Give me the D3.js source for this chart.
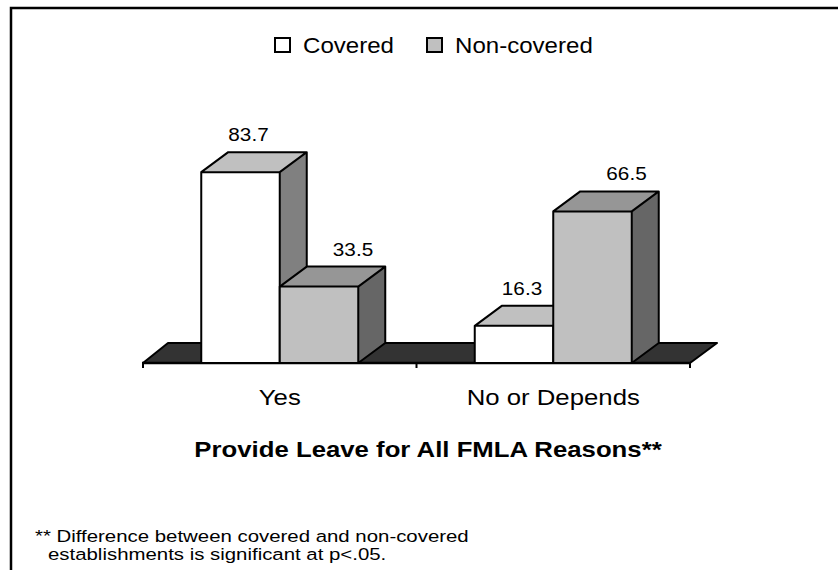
<!DOCTYPE html>
<html>
<head>
<meta charset="utf-8">
<script src="https://cdn.jsdelivr.net/npm/d3@7"></script>
<style>
  body { margin: 0; background: #fff; }
  text { font-family: "Liberation Sans", Arial, sans-serif; fill: #000; }
</style>
</head>
<body>
<div id="chart"></div>
<script>
var categories = ["Yes", "No or Depends"];
var series = ["Covered", "Non-covered"];
var covered = [83.7, 16.3];
var nonCovered = [33.5, 66.5];
var title = "Provide Leave for All FMLA Reasons**";
var footnote = ["** Difference between covered and non-covered",
                "establishments is significant at p<.05."];

var width = 838, height = 570;
var sx = 1.12; // the picture's text is a little wider than tall
var depthX = 27, depthY = -20;

var fills = {
  "Covered":     {front: "#ffffff", top: "#c0c0c0", side: "#808080"},
  "Non-covered": {front: "#c0c0c0", top: "#969696", side: "#666666"}
};
var labelShift = {"Covered": 8, "Non-covered": 34};

var data = categories.map(function(c, i) {
  return {cat: c, values: [
    {key: series[0], value: covered[i]},
    {key: series[1], value: nonCovered[i]}
  ]};
});

var svg = d3.select("#chart").append("svg")
  .attr("width", width)
  .attr("height", height);

// frame (runs off the right and bottom edges)
svg.append("path")
  .attr("d", "M11," + (height + 5) + "V8H" + (width + 5))
  .attr("fill", "none")
  .attr("stroke", "#000")
  .attr("stroke-width", 2.5);

var x0 = d3.scaleBand().domain(categories).range([143, 690]);
var groupW = 157;
var x1 = d3.scaleBand().domain(series).range([0, groupW]);
var y = d3.scaleLinear().domain([0, 100]).range([363, 135]);

function txt(sel, x, yy, s) {
  return sel.attr("transform", "translate(" + x + "," + yy + ") scale(" + (s || sx) + ",1)");
}

// floor
var fx0 = x0.range()[0], fx1 = x0.range()[1], fy = y(0);
svg.append("path")
  .attr("d", "M" + fx0 + "," + fy + "L" + (fx0 + depthX - 2) + "," + (fy + depthY) +
             "L" + (fx1 + depthX) + "," + (fy + depthY) + "L" + fx1 + "," + fy + "Z")
  .attr("fill", "#333333")
  .attr("stroke", "#000")
  .attr("stroke-width", 2)
  .attr("stroke-linejoin", "round");

// category axis
var axis = svg.append("g")
  .attr("transform", "translate(0," + fy + ")")
  .call(d3.axisBottom(x0).tickSize(0).tickPadding(0).tickFormat(""));
axis.select(".domain").remove();
axis.append("line")
  .attr("x1", fx0 - 1).attr("x2", fx1 + 1)
  .attr("stroke", "#000").attr("stroke-width", 2.5);
axis.selectAll(".edge")
  .data([fx0, fx0 + x0.bandwidth(), fx1])
  .enter().append("line")
  .attr("x1", function(d) { return d; })
  .attr("x2", function(d) { return d; })
  .attr("y1", 0).attr("y2", 5)
  .attr("stroke", "#000").attr("stroke-width", 2);

// bars
var groups = svg.selectAll(".grp")
  .data(data)
  .enter().append("g")
  .attr("class", "grp")
  .attr("transform", function(d) {
    return "translate(" + (x0(d.cat) + (x0.bandwidth() - groupW) / 2) + ",0)";
  });

var bars = groups.selectAll(".bar")
  .data(function(d) { return d.values; })
  .enter().append("g")
  .attr("class", "bar");

bars.each(function(d) {
  var g = d3.select(this);
  var l = x1(d.key), r = l + x1.bandwidth();
  var t = y(d.value), b = y(0);
  var f = fills[d.key];
  // side
  g.append("path")
    .attr("d", "M" + r + "," + b + "L" + r + "," + t + "L" + (r + depthX) + "," + (t + depthY) +
               "L" + (r + depthX) + "," + (b + depthY) + "Z")
    .attr("fill", f.side);
  // top
  g.append("path")
    .attr("d", "M" + l + "," + t + "L" + (l + depthX) + "," + (t + depthY) +
               "L" + (r + depthX) + "," + (t + depthY) + "L" + r + "," + t + "Z")
    .attr("fill", f.top);
  // front
  g.append("rect")
    .attr("x", l).attr("y", t)
    .attr("width", x1.bandwidth()).attr("height", b - t)
    .attr("fill", f.front);
  // outline
  g.append("path")
    .attr("d", "M" + l + "," + b + "V" + t + "L" + (l + depthX) + "," + (t + depthY) +
               "H" + (r + depthX) + "V" + (b + depthY) + "L" + r + "," + b + "Z" +
               "M" + l + "," + t + "H" + r + "V" + b +
               "M" + r + "," + t + "L" + (r + depthX) + "," + (t + depthY))
    .attr("fill", "none")
    .attr("stroke", "#000")
    .attr("stroke-width", 2)
    .attr("stroke-linejoin", "round");
  // value label
  txt(g.append("text"), (l + r) / 2 + labelShift[d.key], t + depthY - 11)
    .attr("text-anchor", "middle")
    .attr("font-size", "18.5px")
    .text(d.value.toFixed(1));
});

// category labels
svg.selectAll(".cat")
  .data(categories)
  .enter().append("text")
  .attr("class", "cat")
  .attr("text-anchor", "middle")
  .attr("font-size", "23px")
  .each(function(d) {
    txt(d3.select(this), x0(d) + x0.bandwidth() / 2, 405);
  })
  .text(function(d) { return d; });

// axis title
txt(svg.append("text"), 428, 457)
  .attr("text-anchor", "middle")
  .attr("font-size", "23px")
  .attr("font-weight", "bold")
  .text(title);

// legend
var legX = [274, 426];
var leg = svg.selectAll(".leg")
  .data(series)
  .enter().append("g")
  .attr("class", "leg")
  .attr("transform", function(d, i) { return "translate(" + legX[i] + ",37)"; });
leg.append("rect")
  .attr("x", 1).attr("y", 1)
  .attr("width", 15).attr("height", 14)
  .attr("fill", function(d) { return fills[d].front; })
  .attr("stroke", "#000")
  .attr("stroke-width", 2);
leg.append("text")
  .attr("font-size", "21.5px")
  .each(function() { txt(d3.select(this), 29, 16); })
  .text(function(d) { return d; });

// footnote
svg.selectAll(".foot")
  .data(footnote)
  .enter().append("text")
  .attr("class", "foot")
  .attr("font-size", "17px")
  .each(function(d, i) { txt(d3.select(this), i === 0 ? 35 : 48, 542 + i * 18, 1.2); })
  .text(function(d) { return d; });
</script>
</body>
</html>
